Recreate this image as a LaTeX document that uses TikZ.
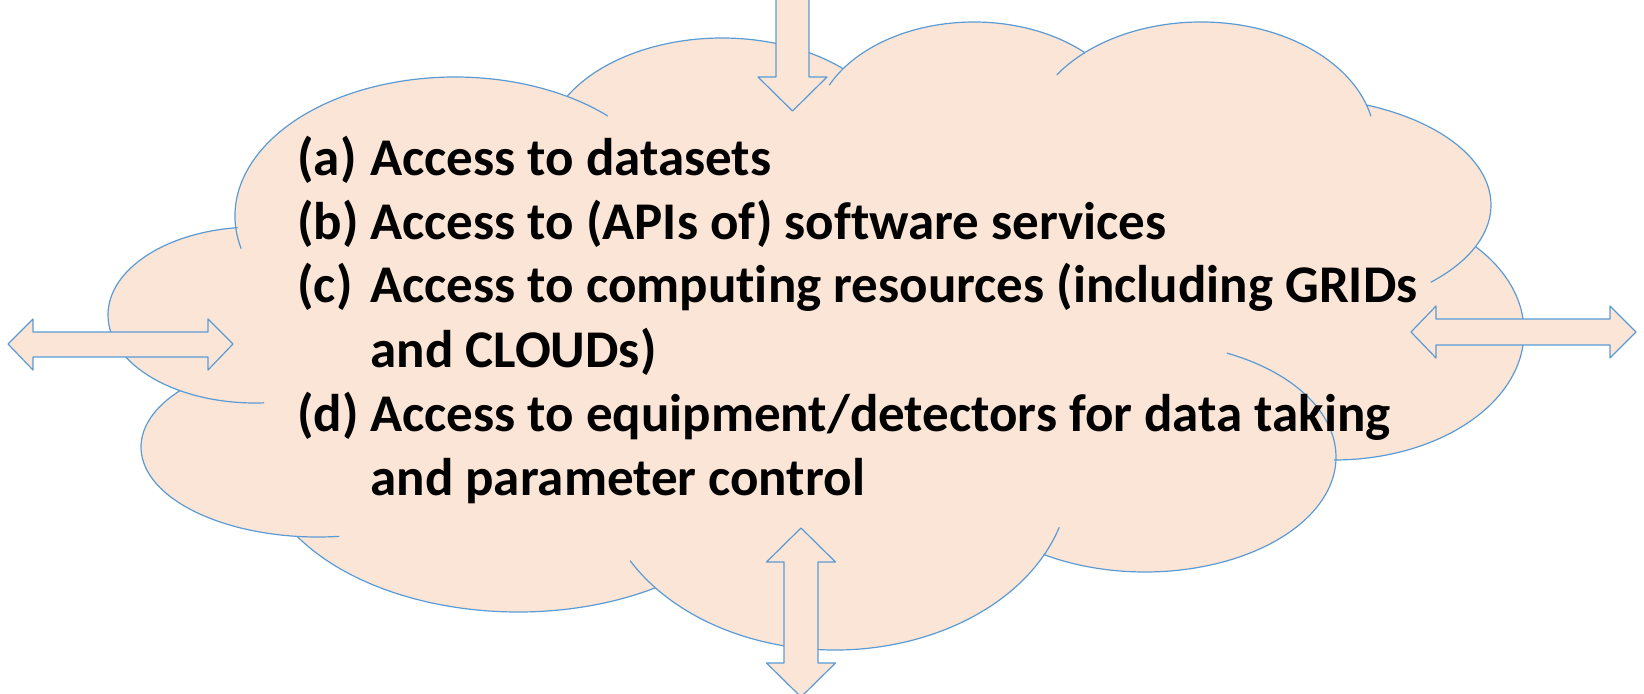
\documentclass[tikz,border=0pt]{standalone}
\usepackage{fontspec}
\setmainfont{Carlito}[Ligatures=NoCommon]
\definecolor{cloudfill}{HTML}{FBE5D6}
\definecolor{cloudline}{HTML}{5B9BD5}

\begin{document}
\begin{tikzpicture}[x=0.5pt,y=-0.5pt,
	outline/.style={draw=cloudline,line width=0.6pt,line join=round},
	blockarrow/.style={outline,fill=cloudfill},
	itemlabel/.style={anchor=base west,inner sep=0pt,font=\fontsize{26.5}{32}\selectfont\bfseries},
	itemtext/.style={itemlabel}]
	\useasboundingbox (0,0) rectangle (1644,694);
	
	% the cloud: one elliptic arc per lobe
	\fill[cloudfill]
	([shift={(455,216)}]174.2:220 and 139) arc[start angle=174.2,end angle=300.6,x radius=220,y radius=139]
	-- ([shift={(722,153)}]209.5:178 and 115) arc[start angle=209.5,end angle=312.8,x radius=178,y radius=115]
	-- ([shift={(974,132)}]215.6:160 and 110) arc[start angle=215.6,end angle=314,x radius=160,y radius=110]
	-- ([shift={(1201,142)}]228.1:174 and 120) arc[start angle=228.1,end angle=342.1,x radius=174,y radius=120]
	-- ([shift={(1291,205)}]292.2:200 and 108) arc[start angle=292.2,end angle=382.6,x radius=200,y radius=108]
	-- ([shift={(1334,332)}]318.1:190 and 128) arc[start angle=318.1,end angle=450,x radius=190,y radius=128]
	-- ([shift={(1145,457)}]0.5:191 and 115) arc[start angle=0.5,end angle=122.1,x radius=191,y radius=115]
	-- ([shift={(835,475)}]26.9:235 and 175) arc[start angle=26.9,end angle=140.1,x radius=235,y radius=175]
	-- ([shift={(518,452)}]58.2:260 and 160) arc[start angle=58.2,end angle=148,x radius=260,y radius=160]
	-- ([shift={(318,447)}]95.9:177 and 90) arc[start angle=95.9,end angle=218.6,x radius=177,y radius=90]
	-- ([shift={(255,315)}]120.6:147 and 88) arc[start angle=120.6,end angle=263.2,x radius=147,y radius=88]
	-- cycle;
	
	% outlines, with the short ends running into the cloud
	\draw[outline] ([shift={(455,216)}]166.4:220 and 139) arc[start angle=166.4,end angle=314,x radius=220,y radius=139];
	\draw[outline] ([shift={(722,153)}]209.5:178 and 115) arc[start angle=209.5,end angle=312.8,x radius=178,y radius=115];
	\draw[outline] ([shift={(974,132)}]205.2:160 and 110) arc[start angle=205.2,end angle=314,x radius=160,y radius=110];
	\draw[outline] ([shift={(1201,142)}]214:174 and 120) arc[start angle=214,end angle=347.6,x radius=174,y radius=120];
	\draw[outline] ([shift={(1291,205)}]292.2:200 and 108) arc[start angle=292.2,end angle=405.7,x radius=200,y radius=108];
	\draw[outline] ([shift={(1334,332)}]318.1:190 and 128) arc[start angle=318.1,end angle=450,x radius=190,y radius=128];
	\draw[outline] ([shift={(1145,457)}]-64.6:191 and 115) arc[start angle=-64.6,end angle=122.1,x radius=191,y radius=115];
	\draw[outline] ([shift={(835,475)}]17.4:235 and 175) arc[start angle=17.4,end angle=150.7,x radius=235,y radius=175];
	\draw[outline] ([shift={(518,452)}]58.2:260 and 160) arc[start angle=58.2,end angle=148,x radius=260,y radius=160];
	\draw[outline] ([shift={(318,447)}]83.1:177 and 90) arc[start angle=83.1,end angle=218.6,x radius=177,y radius=90];
	\draw[outline] ([shift={(255,315)}]86.4:147 and 88) arc[start angle=86.4,end angle=263.2,x radius=147,y radius=88];
	
	% block arrows
	\draw[blockarrow] (776,-5) -- (776,77) -- (758,77) -- (792.5,111) -- (827,77) -- (809,77) -- (809,-5);
	\draw[blockarrow] (8,344) -- (33,319) -- (33,332) -- (208,332) -- (208,319) -- (233,344)
	-- (208,370) -- (208,357) -- (33,357) -- (33,370) -- cycle;
	\draw[blockarrow] (1411,332) -- (1436,306) -- (1436,319) -- (1610,319) -- (1610,306) -- (1636,332)
	-- (1610,358) -- (1610,345) -- (1436,345) -- (1436,358) -- cycle;
	\draw[blockarrow] (801,528) -- (835.5,562) -- (818,562) -- (818,663) -- (835.5,663) -- (801,697)
	-- (766.5,663) -- (784,663) -- (784,562) -- (766.5,562) -- cycle;
	
	% list
	\node[itemlabel] (la) at (297,176) {(a)};
	\node[itemtext] (ta) at (370,176) {Access to datasets};
	\node[itemlabel] (lb) at (297,240) {(b)};
	\node[itemtext] (tb) at (370,240) {Access to (APIs of) software services};
	\node[itemlabel] (lc) at (297,303) {(c)};
	\node[itemtext] (tc) at (370,303) {Access to computing resources (including GRIDs};
	\node[itemtext] (tcc) at (370,368) {and CLOUDs)};
	\node[itemlabel] (ld) at (297,432) {(d)};
	\node[itemtext] (td) at (370,432) {Access to equipment/detectors for data taking};
	\node[itemtext] (tdd) at (370,496) {and parameter control};
\end{tikzpicture}
\end{document}
